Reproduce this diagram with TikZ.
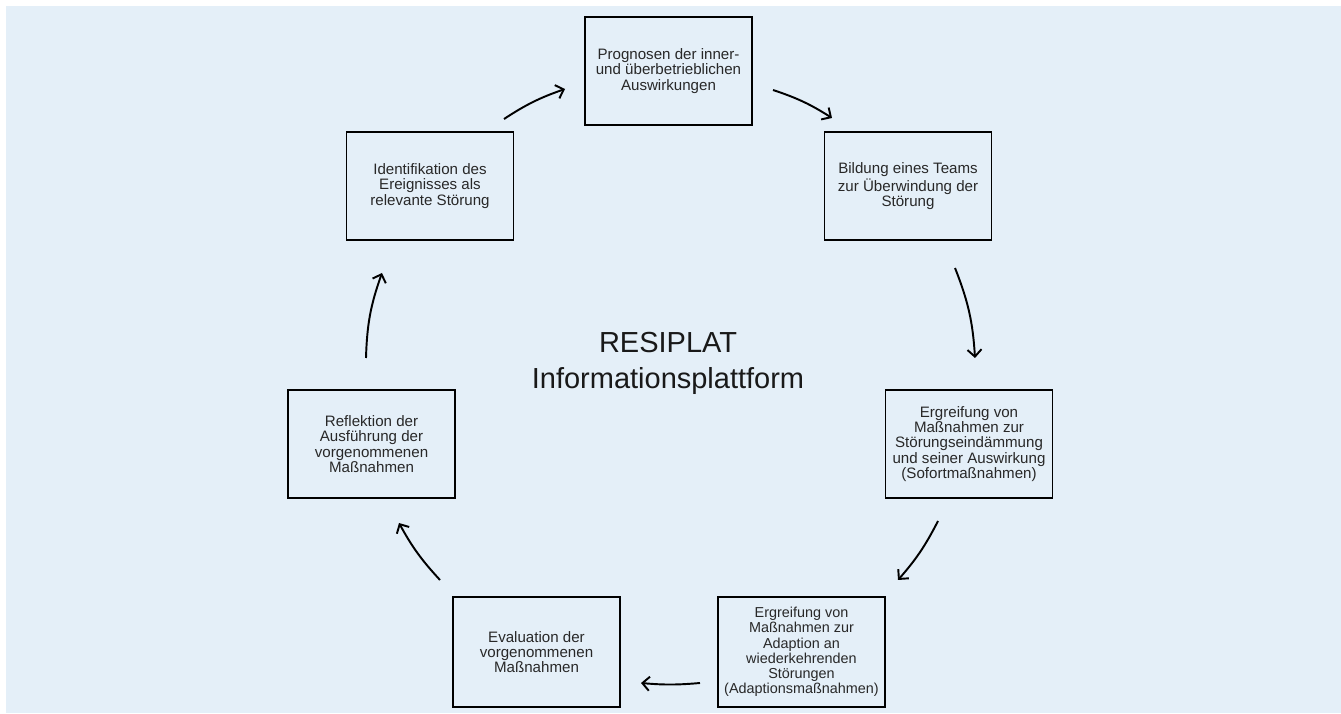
\documentclass[tikz,border=0pt]{standalone}
\usepackage{fontspec}
\setmainfont{Liberation Sans}
\usetikzlibrary{arrows.meta}
\definecolor{bgblue}{RGB}{228,239,248}
\definecolor{boxtext}{RGB}{40,40,40}

\begin{document}
\begin{tikzpicture}[x=0.02cm, y=0.02cm, box/.style={draw, rectangle, line width=0.9pt, inner xsep=1pt, minimum width=3.34cm, minimum height=2.16cm, align=center, text=boxtext, font=\fontsize{8.6}{8.7}\selectfont}, title/.style={align=center, text=black!90, font=\fontsize{16.5}{20.5}\selectfont}, n/.style={-{Straight Barb[length=4pt,width=8pt]}, line width=1.1pt}]
                \useasboundingbox (0,0) rectangle (1341,713);
                \fill[bgblue] (6,0) rectangle (1341,707);
                % nodes
                \node[box] (prog) at (668.5,642) {Prognosen der inner-\\und überbetrieblichen\\Auswirkungen};
                \node[box] (team) at (908,527) {Bildung eines Teams\\zur Überwindung der\\Störung};
                \node[box] (sofort) at (969,269) {Ergreifung von\\Maßnahmen zur\\Störungseindämmung\\und seiner Auswirkung\\(Sofortmaßnahmen)};
                \node[box, minimum height=2.2cm, font=\fontsize{8.2}{8.7}\selectfont] (adapt) at (801.5,61) {Ergreifung von\\Maßnahmen zur\\Adaption an\\wiederkehrenden\\Störungen\\(Adaptionsmaßnahmen)};
                \node[box, minimum height=2.2cm] (eval) at (536.5,61) {Evaluation der\\vorgenommenen\\Maßnahmen};
                \node[box] (refl) at (371.5,269) {Reflektion der\\Ausführung der\\vorgenommenen\\Maßnahmen};
                \node[box] (ident) at (430,527) {Identifikation des\\Ereignisses als\\relevante Störung};
                \node[title] (resiplat) at (668,350) {RESIPLAT\\Informationsplattform};
                % arrow ends
                \coordinate (ident-out) at (504,594);
                \coordinate (prog-in) at (565,624);
                \coordinate (prog-out) at (773,623);
                \coordinate (team-in) at (832,595);
                \coordinate (team-out) at (955,445);
                \coordinate (sofort-in) at (975,355);
                \coordinate (sofort-out) at (938,192);
                \coordinate (adapt-in) at (898,133);
                \coordinate (adapt-out) at (700,30);
                \coordinate (eval-in) at (641,30);
                \coordinate (eval-out) at (440,133);
                \coordinate (refl-in) at (399,190);
                \coordinate (refl-out) at (366,355);
                \coordinate (ident-in) at (382,440);
                % edges
                \draw [n] (ident-out) to[bend left=7] (prog-in);
                \draw [n] (prog-out) to[bend left=7] (team-in);
                \draw [n] (team-out) to[bend left=9] (sofort-in);
                \draw [n] (sofort-out) to[bend left=7] (adapt-in);
                \draw [n] (adapt-out) to[bend left=5] (eval-in);
                \draw [n] (eval-out) to[bend left=7] (refl-in);
                \draw [n] (refl-out) to[bend left=9] (ident-in);
            \end{tikzpicture}
\end{document}
